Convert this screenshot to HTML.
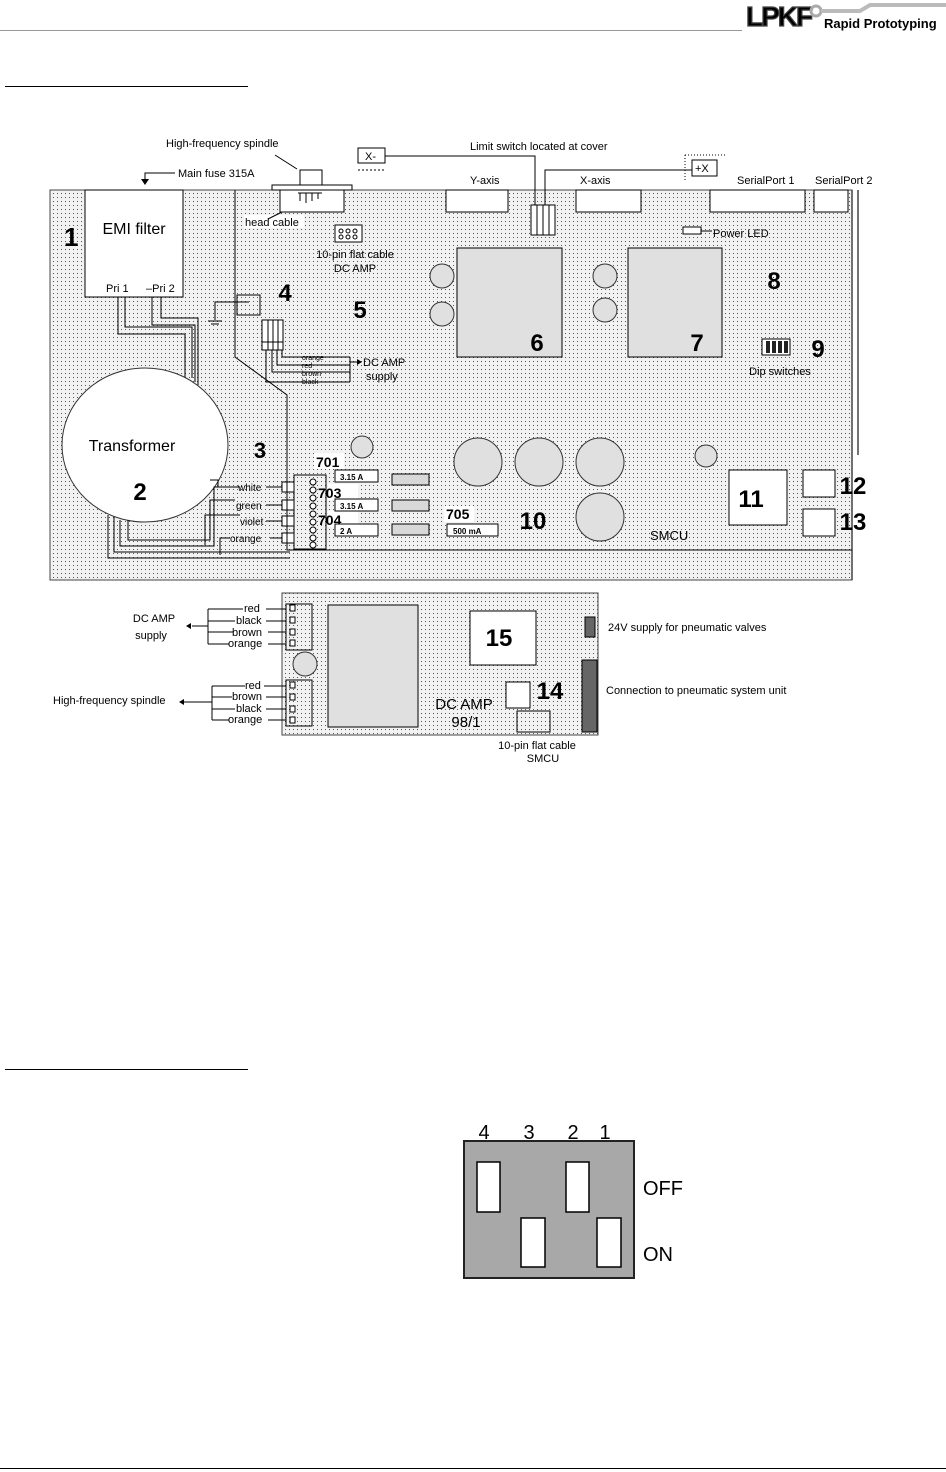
<!DOCTYPE html>
<html><head><meta charset="utf-8"><style>
html,body{margin:0;padding:0;background:#fff}
svg{display:block}
text{font-family:"Liberation Sans",sans-serif;fill:#000}
</style></head><body>
<svg width="946" height="1472" viewBox="0 0 946 1472" xmlns="http://www.w3.org/2000/svg">
<defs>
<pattern id="d" width="4" height="4" patternUnits="userSpaceOnUse">
<rect width="4" height="4" fill="#f2f2f2"/><rect x="1" y="1" width="1" height="1" fill="#555"/>
</pattern>
</defs>
<!-- header -->
<line x1="0" y1="30.5" x2="742" y2="30.5" stroke="#999" stroke-width="1"/>
<text x="746" y="26" font-size="28" font-weight="bold" fill="#fff" stroke="#444" stroke-width="1.2" style="letter-spacing:-2px">LPKF</text>
<circle cx="816" cy="11" r="5" fill="none" stroke="#aaa" stroke-width="3"/>
<path d="M821 11 H860 L870 5 H946" stroke="#bbb" stroke-width="4" fill="none"/>
<text x="824" y="28" font-size="13" font-weight="bold">Rapid Prototyping</text>
<line x1="5" y1="86.5" x2="248" y2="86.5" stroke="#000"/>

<!-- main board -->
<rect x="50" y="190" width="802" height="390" fill="url(#d)" stroke="#444"/>
<line x1="852" y1="190" x2="852" y2="580" stroke="#444" stroke-width="1.5"/>
<line x1="858" y1="190" x2="858" y2="455" stroke="#444" stroke-width="1.5"/>

<!-- EMI -->
<rect x="85" y="190" width="98" height="107" fill="#fff" stroke="#000"/>
<text x="134" y="234" font-size="16" text-anchor="middle">EMI filter</text>
<text x="106" y="292" font-size="11">Pri 1</text>
<text x="146" y="292" font-size="11">–Pri 2</text>
<text x="64" y="246" font-size="26" font-weight="bold">1</text>
<path d="M145 182 V173 H175" stroke="#000" fill="none"/>
<path d="M141 179 L145 185 L149 179Z"/>
<text x="178" y="177" font-size="11">Main fuse 315A</text>

<!-- wires EMI to transformer -->
<path d="M118 297 V334 H185 V378" stroke="#000" fill="none"/>
<path d="M125 297 V327 H192 V378" stroke="#000" fill="none"/>
<path d="M152 297 V325 H195 V382" stroke="#000" fill="none"/>
<path d="M161 297 V318 H198 V385" stroke="#000" fill="none"/>

<!-- transformer -->
<ellipse cx="145" cy="445" rx="83" ry="77" fill="#fff" stroke="#333"/>
<text x="132" y="451" font-size="16" text-anchor="middle">Transformer</text>
<text x="140" y="500" font-size="24" font-weight="bold" text-anchor="middle">2</text>
<path d="M108 515 V558 H290" stroke="#000" fill="none"/>
<path d="M114 517 V552 H290" stroke="#000" fill="none"/>
<path d="M120 520 V546 H214 V487 H240" stroke="#000" fill="none"/>
<path d="M128 520 V540 H210 V500 H235" stroke="#000" fill="none"/>
<path d="M210 480 H218 V487" stroke="#000" fill="none"/>
<path d="M205 545 V515 H240" stroke="#000" fill="none"/>
<path d="M220 555 V538 H230" stroke="#000" fill="none"/>
<text x="238" y="491" font-size="10">white</text>
<text x="236" y="509" font-size="10">green</text>
<text x="240" y="525" font-size="10">violet</text>
<text x="230" y="542" font-size="10">orange</text>
<line x1="266" y1="487" x2="282" y2="487" stroke="#000"/>
<line x1="266" y1="505" x2="282" y2="505" stroke="#000"/>
<line x1="266" y1="521" x2="282" y2="521" stroke="#000"/>
<line x1="270" y1="538" x2="282" y2="538" stroke="#000"/>
<g fill="#fff" stroke="#000"><rect x="282" y="482" width="12" height="10"/><rect x="282" y="500" width="12" height="10"/><rect x="282" y="516" width="12" height="10"/><rect x="282" y="533" width="12" height="10"/></g>

<path d="M235 190 V357 L287 395 V550 H852" stroke="#000" fill="none"/>
<rect x="294" y="475" width="32" height="74" fill="none" stroke="#000"/>
<g fill="#fff" stroke="#000"><circle cx="313" cy="482" r="3"/><circle cx="313" cy="490" r="3"/><circle cx="313" cy="498" r="3"/><circle cx="313" cy="506" r="3"/><circle cx="313" cy="514" r="3"/><circle cx="313" cy="522" r="3"/><circle cx="313" cy="530" r="3"/><circle cx="313" cy="538" r="3"/><circle cx="313" cy="545" r="3"/></g>
<text x="260" y="458" font-size="22" font-weight="bold" text-anchor="middle">3</text>

<!-- ground & 4 -->
<rect x="237" y="295" width="23" height="20" fill="none" stroke="#000"/>
<path d="M249 302 H215 V320 M208 321 H222 M211 324 H219" stroke="#000" fill="none"/>
<text x="285" y="301" font-size="24" font-weight="bold" text-anchor="middle">4</text>
<rect x="262" y="320" width="21" height="30" fill="#fff" stroke="#000"/>
<path d="M268 320V350M273 320V350M278 320V350M262 342H283" stroke="#000"/>
<path d="M282 350 V357 H350 M277 350 V365 H350 M272 350 V372 H350 M266 350 V382 H350 M350 357 V382" stroke="#000" fill="none"/>
<path d="M350 362 H360" stroke="#000"/><path d="M357 359 L362 362 L357 365Z"/>
<text x="302" y="360" font-size="7" fill="#777">orange</text>
<text x="302" y="368" font-size="7" fill="#777">red</text>
<text x="302" y="376" font-size="7" fill="#777">brown</text>
<text x="302" y="384" font-size="7" fill="#777">black</text>
<text x="363" y="366" font-size="11">DC AMP</text>
<text x="366" y="380" font-size="11">supply</text>

<!-- spindle -->
<rect x="280" y="190" width="64" height="22" fill="#fff" stroke="#000"/>
<rect x="272" y="185" width="80" height="5" fill="#fff" stroke="#000"/>
<rect x="300" y="170" width="22" height="15" fill="#fff" stroke="#000"/>
<path d="M300 193V201M306 193V203M312 193V201M318 193V199M298 193H322" stroke="#000"/>
<path d="M275 155 L297 169" stroke="#000"/>
<text x="166" y="147" font-size="11">High-frequency spindle</text>
<rect x="244" y="215" width="60" height="13" fill="#fff"/>
<text x="245" y="226" font-size="11">head cable</text>
<path d="M282 212 L268 219" stroke="#000"/>

<!-- 10-pin -->
<rect x="335" y="225" width="27" height="17" fill="#fff" stroke="#000"/>
<g fill="none" stroke="#000"><circle cx="341" cy="231" r="2"/><circle cx="348" cy="231" r="2"/><circle cx="355" cy="231" r="2"/><circle cx="341" cy="237" r="2"/><circle cx="348" cy="237" r="2"/><circle cx="355" cy="237" r="2"/></g>
<text x="355" y="258" font-size="11" text-anchor="middle">10-pin flat cable</text>
<text x="355" y="272" font-size="11" text-anchor="middle">DC AMP</text>
<text x="360" y="318" font-size="24" font-weight="bold" text-anchor="middle">5</text>

<g fill="#e0e0e0" stroke="#333"><circle cx="442" cy="276" r="12"/><circle cx="442" cy="314" r="12"/><circle cx="605" cy="276" r="12"/><circle cx="605" cy="310" r="12"/></g>
<rect x="457" y="248" width="105" height="109" fill="#e0e0e0" stroke="#000"/>
<text x="537" y="351" font-size="24" font-weight="bold" text-anchor="middle">6</text>
<rect x="628" y="248" width="94" height="109" fill="#e0e0e0" stroke="#000"/>
<text x="697" y="351" font-size="24" font-weight="bold" text-anchor="middle">7</text>

<!-- top connectors -->
<rect x="446" y="190" width="62" height="22" fill="#fff" stroke="#000"/>
<text x="470" y="184" font-size="11">Y-axis</text>
<rect x="576" y="190" width="65" height="22" fill="#fff" stroke="#000"/>
<text x="580" y="184" font-size="11">X-axis</text>
<rect x="710" y="190" width="95" height="22" fill="#fff" stroke="#000"/>
<text x="737" y="184" font-size="11">SerialPort 1</text>
<rect x="814" y="190" width="34" height="22" fill="#fff" stroke="#000"/>
<text x="815" y="184" font-size="11">SerialPort 2</text>

<!-- limit switch -->
<text x="470" y="150" font-size="11">Limit switch located at cover</text>
<rect x="358" y="148" width="27" height="15" fill="#fff" stroke="#000"/>
<text x="365" y="160" font-size="11" font-family="Liberation Mono">X-</text>
<path d="M358 170 H385" stroke="#000" stroke-dasharray="2,2"/>
<path d="M385 156 H535 V210 M545 210 V170 H692" stroke="#000" fill="none"/>
<rect x="531" y="205" width="24" height="30" fill="#fff" stroke="#000"/>
<path d="M537 205V235M543 205V235M549 205V235" stroke="#000"/>
<rect x="692" y="160" width="25" height="16" fill="#fff" stroke="#000"/>
<text x="695" y="172" font-size="11" font-family="Liberation Mono">+X</text>
<path d="M685 155 V180 M685 155 H725" stroke="#000" stroke-dasharray="1,2"/>

<!-- power led -->
<rect x="683" y="227" width="18" height="7" fill="#fff" stroke="#000"/>
<path d="M701 231 H712" stroke="#000"/>
<text x="713" y="237" font-size="11">Power LED</text>
<text x="774" y="289" font-size="24" font-weight="bold" text-anchor="middle">8</text>
<rect x="762" y="339" width="28" height="16" fill="#fff" stroke="#000"/>
<path d="M766 341h4v12h-4zM772 341h4v12h-4zM778 341h4v12h-4zM784 341h4v12h-4z" fill="#222"/>
<text x="818" y="357" font-size="24" font-weight="bold" text-anchor="middle">9</text>
<text x="780" y="375" font-size="11" text-anchor="middle">Dip switches</text>

<!-- lower region -->
<g fill="#e0e0e0" stroke="#333"><circle cx="362" cy="447" r="11"/><circle cx="706" cy="456" r="11"/>
<circle cx="478" cy="462" r="24"/><circle cx="539" cy="462" r="24"/><circle cx="600" cy="462" r="24"/><circle cx="600" cy="517" r="24"/></g>
<rect x="314" y="453" width="30" height="16" fill="#fff"/>
<text x="316" y="467" font-size="14" font-weight="bold">701</text>
<rect x="328" y="484" width="30" height="16" fill="#fff"/>
<text x="318" y="498" font-size="14" font-weight="bold">703</text>
<rect x="328" y="511" width="30" height="16" fill="#fff"/>
<text x="318" y="525" font-size="14" font-weight="bold">704</text>
<g fill="#fff" stroke="#000"><rect x="335" y="470" width="43" height="12"/><rect x="335" y="499" width="43" height="12"/><rect x="335" y="524" width="43" height="12"/><rect x="447" y="524" width="51" height="12"/></g>
<text x="340" y="480" font-size="8" fill="#666" font-weight="bold">3.15 A</text>
<text x="340" y="509" font-size="8" fill="#666" font-weight="bold">3.15 A</text>
<text x="340" y="534" font-size="8" fill="#666" font-weight="bold">2 A</text>
<text x="453" y="534" font-size="8" fill="#666" font-weight="bold">500 mA</text>
<g fill="#d8d8d8" stroke="#000"><rect x="392" y="474" width="37" height="11"/><rect x="392" y="500" width="37" height="11"/><rect x="392" y="524" width="37" height="11"/></g>
<rect x="444" y="506" width="30" height="16" fill="#fff"/>
<text x="446" y="519" font-size="14" font-weight="bold">705</text>
<text x="533" y="529" font-size="24" font-weight="bold" text-anchor="middle">10</text>
<text x="650" y="540" font-size="13">SMCU</text>
<rect x="729" y="470" width="58" height="55" fill="#fff" stroke="#000"/>
<text x="751" y="507" font-size="24" font-weight="bold" text-anchor="middle">11</text>
<rect x="803" y="470" width="32" height="27" fill="#fff" stroke="#000"/>
<text x="853" y="494" font-size="24" font-weight="bold" text-anchor="middle">12</text>
<rect x="803" y="509" width="32" height="27" fill="#fff" stroke="#000"/>
<text x="853" y="530" font-size="24" font-weight="bold" text-anchor="middle">13</text>

<!-- DC AMP board -->
<rect x="282" y="593" width="316" height="142" fill="url(#d)" stroke="#444"/>
<rect x="286" y="604" width="26" height="46" fill="none" stroke="#000"/>
<rect x="286" y="680" width="26" height="46" fill="none" stroke="#000"/>
<g fill="#fff" stroke="#000"><rect x="290" y="605" width="5" height="6"/><rect x="290" y="617" width="5" height="6"/><rect x="290" y="629" width="5" height="6"/><rect x="290" y="640" width="5" height="6"/>
<rect x="290" y="682" width="5" height="6"/><rect x="290" y="694" width="5" height="6"/><rect x="290" y="706" width="5" height="6"/><rect x="290" y="717" width="5" height="6"/></g>
<circle cx="305" cy="664" r="12" fill="#e0e0e0" stroke="#333"/>
<rect x="328" y="605" width="90" height="122" fill="#e0e0e0" stroke="#000"/>
<rect x="470" y="611" width="66" height="54" fill="#fff" stroke="#000"/>
<text x="499" y="646" font-size="24" font-weight="bold" text-anchor="middle">15</text>
<rect x="506" y="682" width="24" height="26" fill="#fff" stroke="#000"/>
<text x="550" y="699" font-size="24" font-weight="bold" text-anchor="middle">14</text>
<text x="464" y="709" font-size="15" fill="#444" text-anchor="middle">DC AMP</text>
<text x="466" y="727" font-size="15" fill="#444" text-anchor="middle">98/1</text>
<rect x="517" y="711" width="33" height="21" fill="none" stroke="#000"/>
<rect x="585" y="617" width="10" height="20" fill="#666" stroke="#000"/>
<rect x="582" y="660" width="15" height="72" fill="#666" stroke="#000"/>
<text x="537" y="749" font-size="11" text-anchor="middle">10-pin flat cable</text>
<text x="543" y="762" font-size="11" text-anchor="middle">SMCU</text>
<text x="608" y="631" font-size="11">24V supply for pneumatic valves</text>
<text x="606" y="694" font-size="11">Connection to pneumatic system unit</text>

<g stroke="#000" fill="none">
<path d="M208 609 V644 M208 609 H243 M208 621 H235 M208 632 H233 M208 644 H229 M266 609 H286 M266 621 H286 M268 632 H286 M268 644 H286 M208 626 H192"/>
<path d="M212 686 V720 M212 686 H245 M212 697 H232 M212 709 H235 M212 720 H229 M264 686 H286 M266 697 H286 M266 709 H286 M268 720 H286 M212 702 H184"/>
</g>
<path d="M191 623 L186 626 L191 629Z"/><path d="M184 699 L179 702 L184 705Z"/>
<text x="244" y="612" font-size="11">red</text>
<text x="236" y="624" font-size="11">black</text>
<text x="232" y="636" font-size="11">brown</text>
<text x="228" y="647" font-size="11">orange</text>
<text x="154" y="622" font-size="11" text-anchor="middle">DC AMP</text>
<text x="151" y="639" font-size="11" text-anchor="middle">supply</text>
<text x="245" y="689" font-size="11">red</text>
<text x="232" y="700" font-size="11">brown</text>
<text x="236" y="712" font-size="11">black</text>
<text x="228" y="723" font-size="11">orange</text>
<text x="53" y="704" font-size="11">High-frequency spindle</text>

<!-- dip diagram -->
<line x1="5" y1="1069.5" x2="248" y2="1069.5" stroke="#000"/>
<text x="484" y="1139" font-size="20" text-anchor="middle">4</text>
<text x="529" y="1139" font-size="20" text-anchor="middle">3</text>
<text x="573" y="1139" font-size="20" text-anchor="middle">2</text>
<text x="605" y="1139" font-size="20" text-anchor="middle">1</text>
<rect x="464" y="1141" width="170" height="137" fill="#a8a8a8" stroke="#222" stroke-width="2"/>
<g fill="#fff" stroke="#000" stroke-width="1.5"><rect x="477" y="1162" width="23" height="50"/><rect x="566" y="1162" width="23" height="50"/><rect x="521" y="1218" width="24" height="49"/><rect x="597" y="1218" width="24" height="49"/></g>
<text x="643" y="1195" font-size="20">OFF</text>
<text x="643" y="1261" font-size="20">ON</text>
<line x1="0" y1="1468.5" x2="946" y2="1468.5" stroke="#000"/>
</svg>
</body></html>
